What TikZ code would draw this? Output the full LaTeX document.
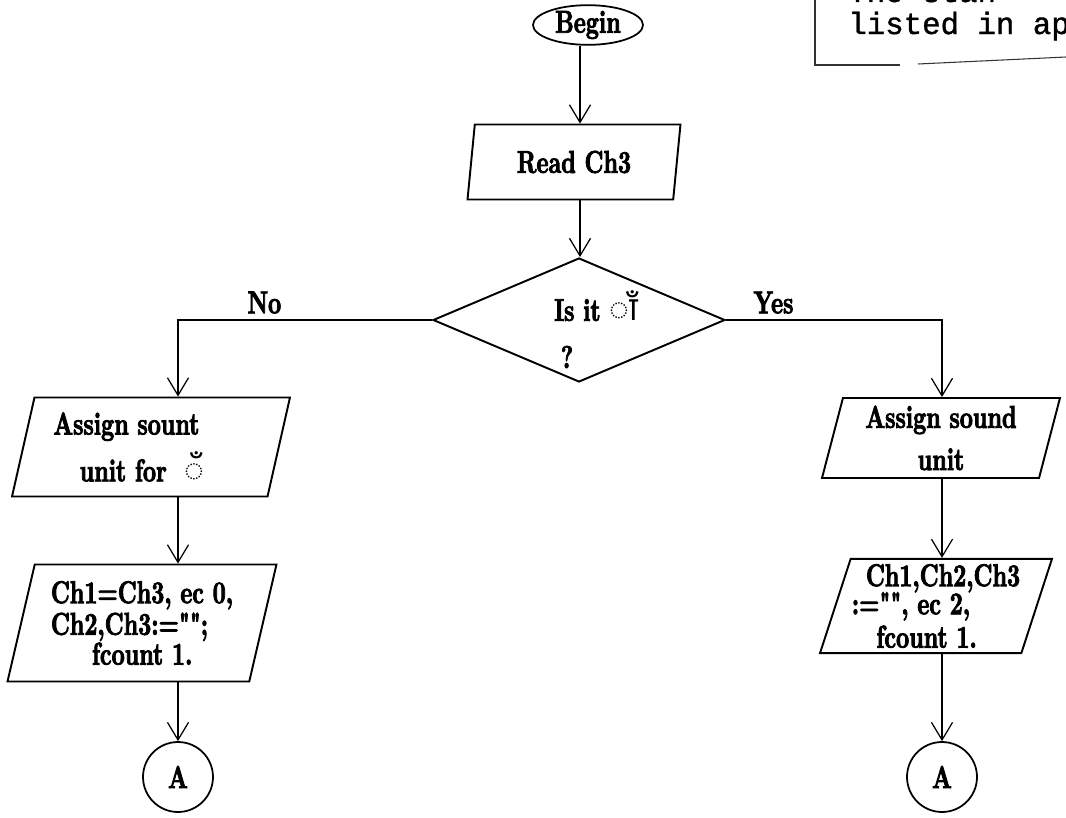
\documentclass[tikz,border=0pt]{standalone}
\usepackage{fontspec}
\newfontfamily\flowfont{lmroman10-bold}[Extension=.otf,FakeStretch=0.72,FakeBold=2.5]
\newfontfamily\devafont{Noto Sans}[Script=Devanagari]
\newfontfamily\memofont{Liberation Mono}[FakeBold=1.2]
\usetikzlibrary{shapes.geometric,arrows.meta}
\tikzset{
	flowtxt/.style={font=\flowfont\fontsize{18}{20}\selectfont},
	startbox/.style={ellipse,draw=black,line width=1pt,minimum width=2.2cm,minimum height=0.76cm,inner sep=0pt,flowtxt},
	iobox/.style={trapezium,trapezium left angle=72,trapezium right angle=108,trapezium stretches body,draw=black,line width=1.1pt,inner sep=0pt,flowtxt},
	testbox/.style={diamond,draw=black,line width=1.1pt,minimum width=5.84cm,minimum height=2.48cm,inner sep=0pt},
	linkbox/.style={circle,draw=black,line width=1pt,minimum size=1.4cm,inner sep=0pt,flowtxt},
	memo/.style={draw=black!80,line width=0.6pt},
	memotxt/.style={font=\memofont\fontsize{17.5}{17.5}\selectfont,inner sep=0pt}
}
\newcommand{\devamark}[1]{{\devafont\bfseries\fontsize{19}{19}\selectfont #1}}

\begin{document}
\begin{tikzpicture}[x=0.02cm,y=-0.02cm,
		flow/.style={-{Straight Barb[length=10pt,width=12pt]},line width=0.7pt}]
	\useasboundingbox (0,0) rectangle (1066,818);
	\clip (0,0) rectangle (1066,818);
	\fill[white] (0,0) rectangle (1066,818);

	% note box, cut off at the top right corner
	\draw[memo] (815,0) -- (815,65) -- (900,65);
	\draw[memo] (918,64) -- (1066,57);
	\node[memotxt,anchor=base west] (memoa) at (848,2) {The stan};
	\node[memotxt,anchor=base west] (memob) at (848,34) {listed in ap};

	\coordinate (mcol) at (580,0);
	\coordinate (lcol) at (178,0);
	\coordinate (rcol) at (942,0);

	\node[startbox] (begin) at (588,25) {Begin};
	\node[iobox,minimum width=4.26cm,minimum height=1.5cm] (read) at (574,162) {Read Ch3};
	\node[testbox] (test) at (579,320) {};
	\node[flowtxt] (testq) at (596,306) {Is it \devamark{◌ाँ}};
	\node[flowtxt] (testm) at (567,357) {?};

	\node[iobox,minimum width=5.56cm,minimum height=1.98cm,align=left] (assl) at (151,447)
	{Assign sount\hspace*{28pt}\\[5pt]\hspace*{15pt}unit for\ \ \devamark{◌ँ}};
	\node[iobox,minimum width=5.38cm,minimum height=2.34cm,align=left] (setl) at (142,623)
	{Ch1=Ch3, ec 0,\\[-2pt]Ch2,Ch3:="";\\[-3pt]\hspace*{1.3em}fcount 1.};
	\node[linkbox] (linkl) at (178,777) {A};

	\node[iobox,minimum width=4.76cm,minimum height=1.6cm,align=center] (assr) at (941,438)
	{Assign sound\\[4pt]unit};
	\node[iobox,minimum width=4.64cm,minimum height=1.76cm,inner ysep=3pt,align=left] (setr) at (936,606)
	{\hspace*{8pt}Ch1,Ch2,Ch3\\[-4pt]:="", ec 2,\\[-1pt]\hspace*{14pt}fcount 1.};
	\node[linkbox] (linkr) at (942,777) {A};

	\draw[flow] (mcol |- begin.south) -- (mcol |- read.north);
	\draw[flow] (mcol |- read.south) -- (mcol |- test.north);
	\draw[flow] (test.west) -| node[flowtxt,above,pos=0.33] (lblno) {No} (lcol |- assl.north);
	\draw[flow] (test.east) -| node[flowtxt,above,pos=0.11] (lblyes) {Yes} (rcol |- assr.north);
	\draw[flow] (lcol |- assl.south) -- (lcol |- setl.north);
	\draw[flow] (lcol |- setl.south) -- (linkl);
	\draw[flow] (rcol |- assr.south) -- (rcol |- setr.north);
	\draw[flow] (rcol |- setr.south) -- (linkr);
\end{tikzpicture}
\end{document}
